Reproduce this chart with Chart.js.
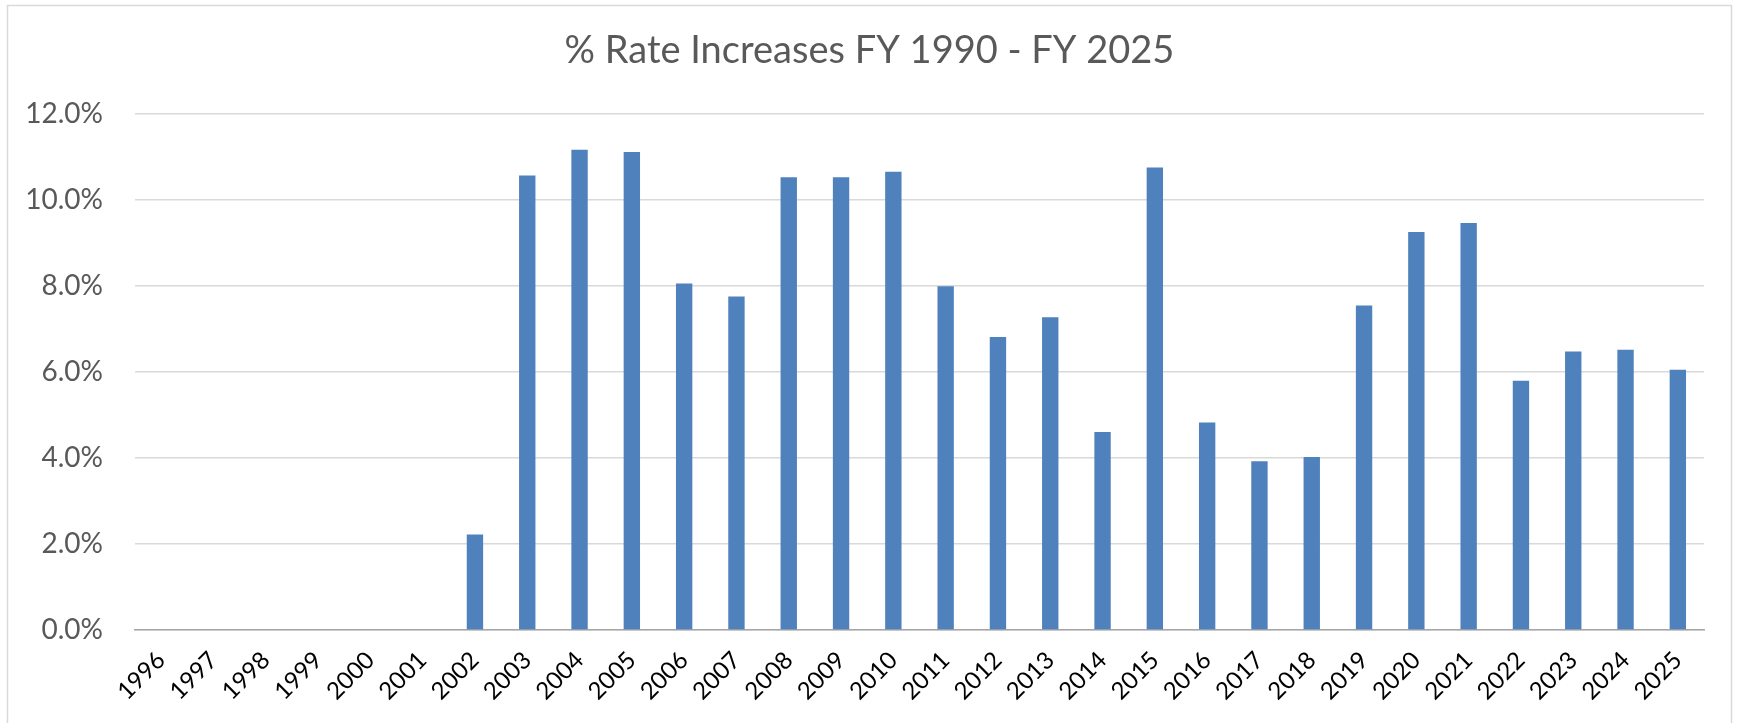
<!DOCTYPE html>
<html>
<head>
<meta charset="utf-8">
<script src="https://cdn.jsdelivr.net/npm/chart.js@4"></script>
<style>
  html, body { margin: 0; padding: 0; background: #ffffff; }
  #wrap { position: relative; width: 1739px; height: 723px; }
</style>
</head>
<body>
<div id="wrap"><canvas id="c" width="1739" height="723"></canvas></div>
<script>
const chartTitle = '% Rate Increases FY 1990 - FY 2025';
const years = ['1996','1997','1998','1999','2000','2001','2002','2003','2004','2005',
  '2006','2007','2008','2009','2010','2011','2012','2013','2014','2015',
  '2016','2017','2018','2019','2020','2021','2022','2023','2024','2025'];
const rateIncrease = [0, 0, 0, 0, 0, 0, 2.22, 10.56, 11.16, 11.11,
  8.05, 7.75, 10.52, 10.52, 10.65, 7.99, 6.81, 7.27, 4.60, 10.75,
  4.82, 3.92, 4.02, 7.54, 9.25, 9.46, 5.79, 6.47, 6.51, 6.05];
const yTicks = [0, 2, 4, 6, 8, 10, 12];

const frame = {
  id: 'frame',
  beforeDraw(chart) {
    const ctx = chart.ctx;
    ctx.save();
    ctx.fillStyle = '#ffffff';
    ctx.fillRect(0, 0, chart.width, chart.height);
    ctx.strokeStyle = '#d9d9d9';
    ctx.lineWidth = 1.5;
    ctx.strokeRect(7.5, 5.5, 1724, 800);
    ctx.restore();
  }
};

new Chart(document.getElementById('c'), {
  type: 'bar',
  data: {
    labels: years,
    datasets: [{
      data: rateIncrease,
      backgroundColor: '#4f81bd',
      borderWidth: 0,
      barPercentage: 0.313,
      categoryPercentage: 1.0,
      yAxisID: 'y'
    }]
  },
  plugins: [frame],
  options: {
    responsive: false,
    animation: false,
    devicePixelRatio: 1,
    layout: { padding: 0 },
    plugins: {
      legend: { display: false },
      tooltip: { enabled: false },
      title: {
        display: true,
        text: chartTitle,
        color: '#595959',
        font: { family: 'Lato', size: 38, weight: 'normal' },
        padding: { top: 28, bottom: 40 }
      }
    },
    scales: {
      x: {
        grid: { display: false, drawTicks: false },
        border: { display: true, color: '#a6a6a6', width: 1.5 },
        ticks: {
          color: '#000000',
          font: { family: 'Lato', size: 24 },
          autoSkip: false,
          maxRotation: 45,
          minRotation: 45,
          padding: 16
        },
        afterFit(scale) { scale.height = 93; }
      },
      y: {
        min: 0,
        max: 12,
        afterBuildTicks(scale) { scale.ticks = yTicks.map(v => ({ value: v })); },
        grid: { color: '#d9d9d9', lineWidth: 1.5, drawTicks: false },
        border: { display: false },
        ticks: {
          color: '#595959',
          font: { family: 'Lato', size: 28 },
          padding: 32,
          callback: v => Number(v).toFixed(1) + '%'
        },
        afterFit(scale) { scale.width = 135; }
      },
      yRight: {
        position: 'right',
        min: 0,
        max: 12,
        grid: { display: false, drawTicks: false },
        border: { display: false },
        ticks: { display: false },
        afterFit(scale) { scale.width = 35; }
      }
    }
  }
});
</script>
</body>
</html>
